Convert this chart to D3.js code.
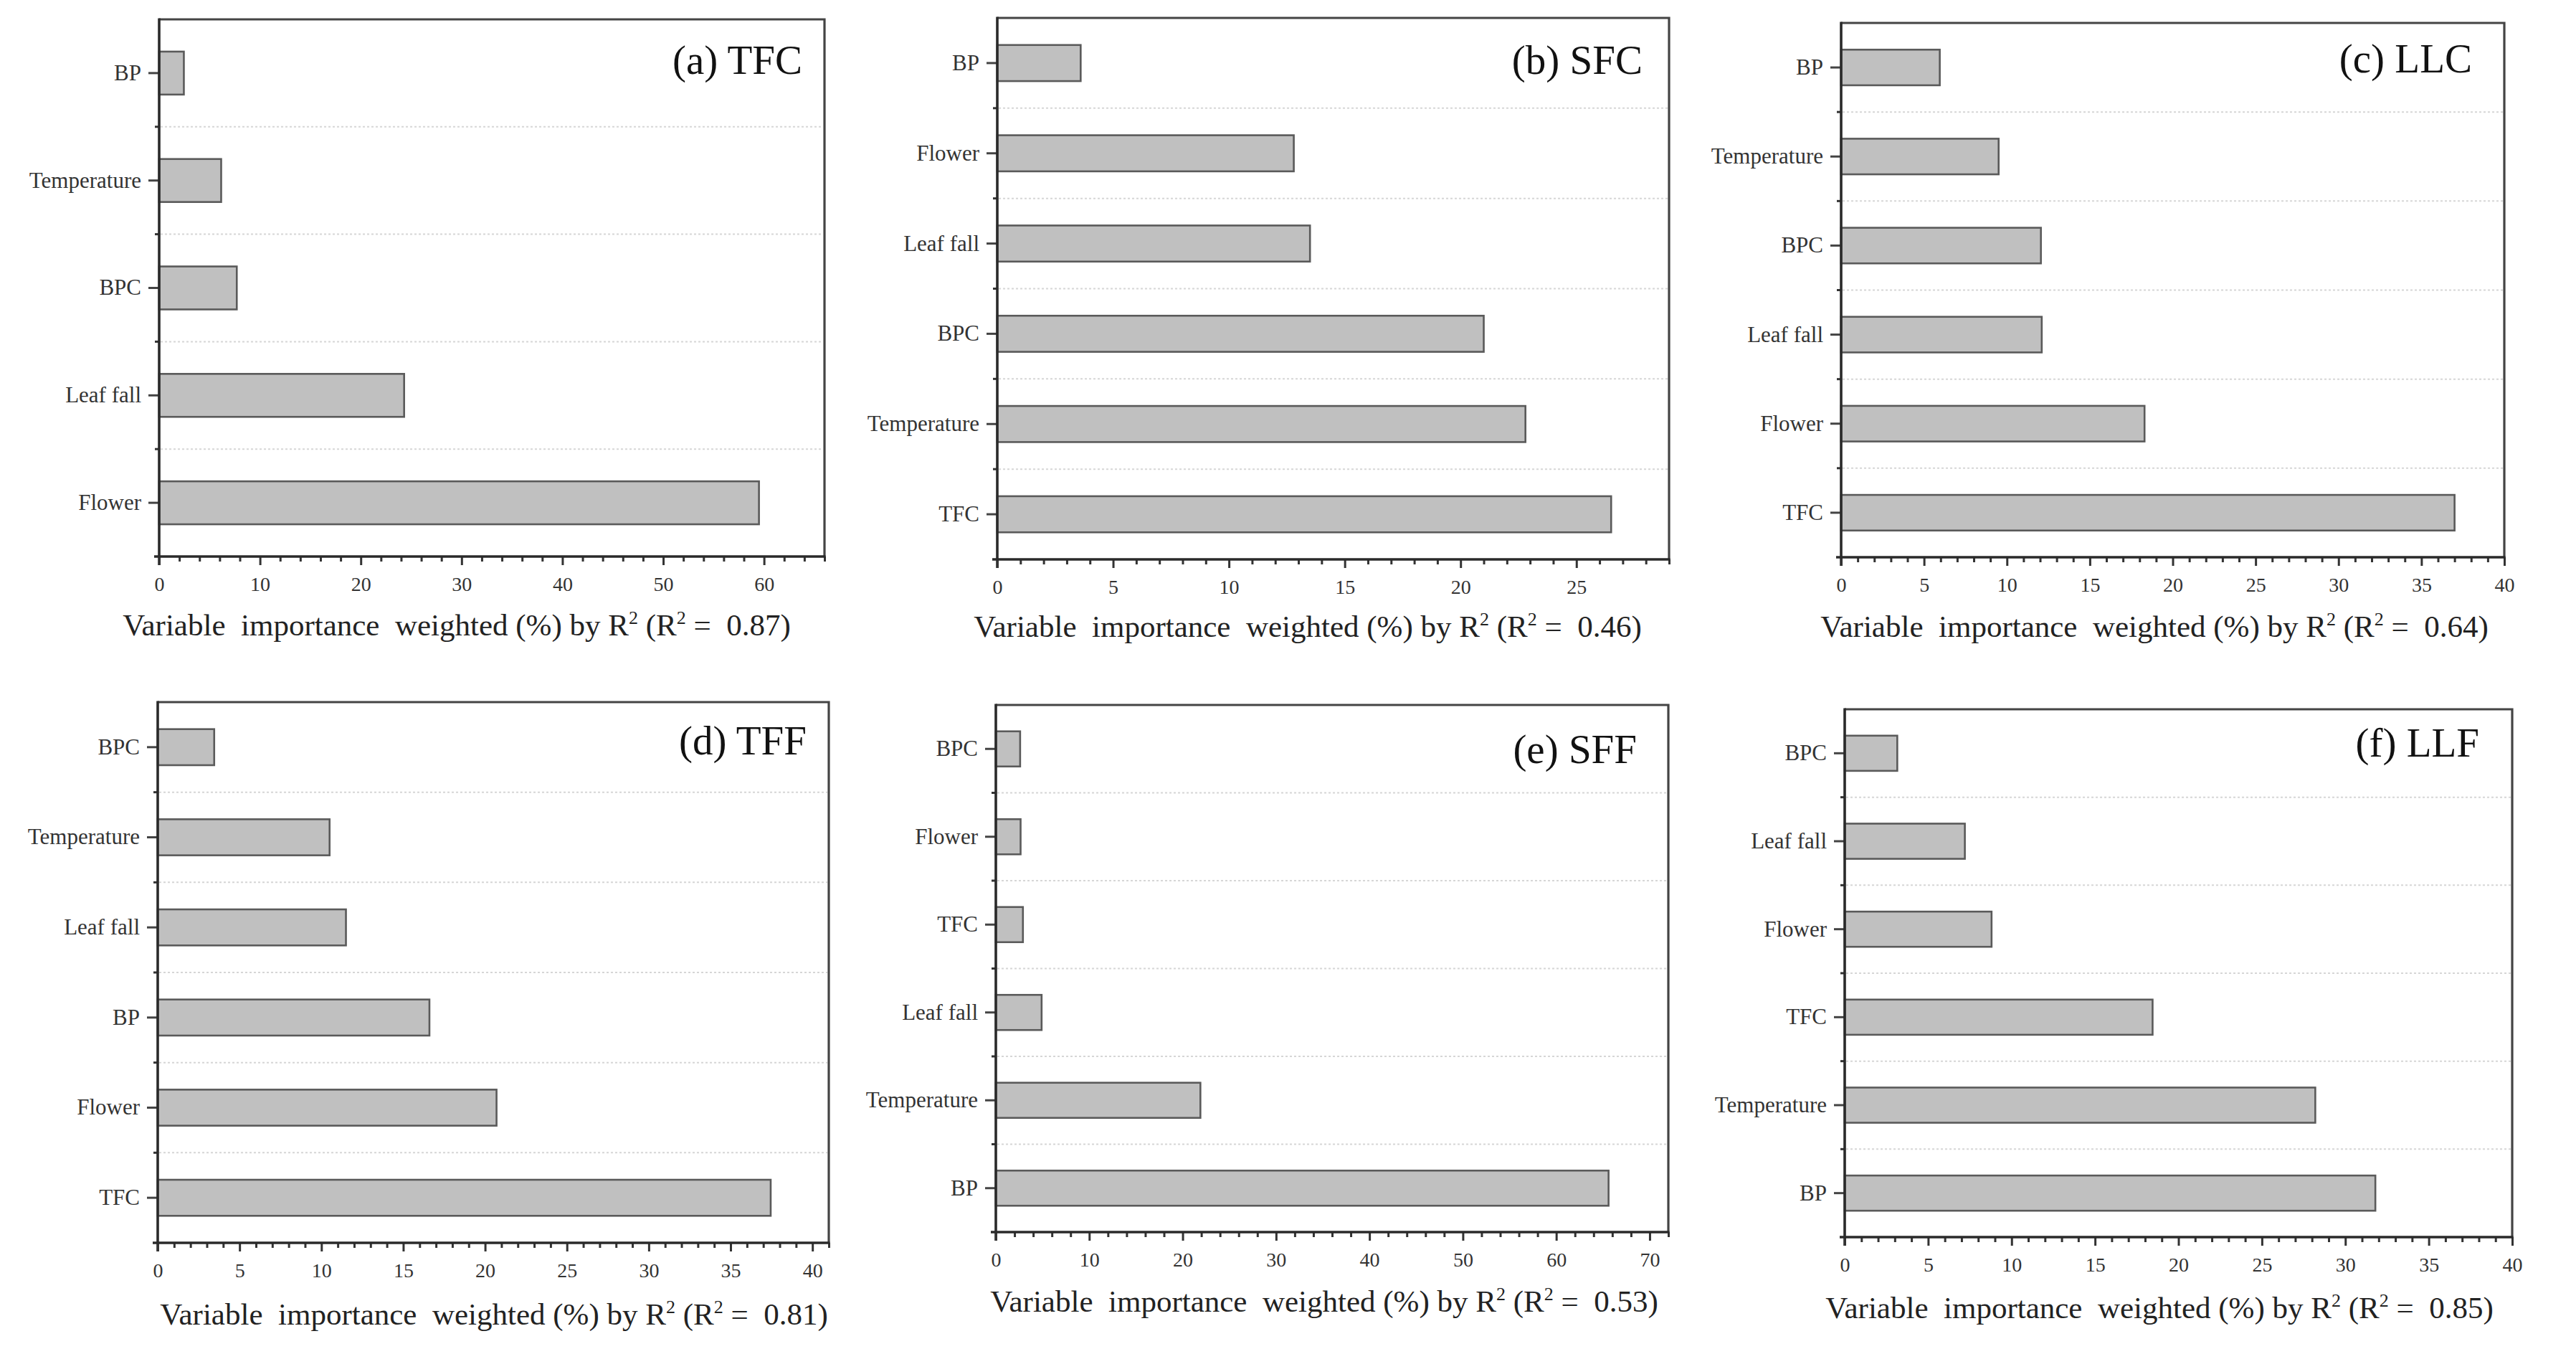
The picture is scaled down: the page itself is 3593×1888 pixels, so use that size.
<!DOCTYPE html>
<html>
<head>
<meta charset="utf-8">
<script src="https://cdn.jsdelivr.net/npm/d3@7"></script>
<style>
  body { margin: 0; background: #fff; }
  text { font-family: "Liberation Serif", "Times New Roman", serif; }
</style>
</head>
<body>
<svg id="chart"></svg>
<script>
// ---- data (top to bottom, as in the figure) ----
const panelNames = ['(a) TFC', '(b) SFC', '(c) LLC', '(d) TFF', '(e) SFF', '(f) LLF'];
const rSquared = ['0.87', '0.46', '0.64', '0.81', '0.53', '0.85'];

const catsA = ['BP', 'Temperature', 'BPC', 'Leaf fall', 'Flower'];
const valsA = [2.45, 6.15, 7.7, 24.3, 59.5];
const catsB = ['BP', 'Flower', 'Leaf fall', 'BPC', 'Temperature', 'TFC'];
const valsB = [3.6, 12.8, 13.5, 21.0, 22.8, 26.5];
const catsC = ['BP', 'Temperature', 'BPC', 'Leaf fall', 'Flower', 'TFC'];
const valsC = [5.95, 9.5, 12.05, 12.1, 18.3, 37.0];
const catsD = ['BPC', 'Temperature', 'Leaf fall', 'BP', 'Flower', 'TFC'];
const valsD = [3.45, 10.5, 11.5, 16.6, 20.7, 37.45];
const catsE = ['BPC', 'Flower', 'TFC', 'Leaf fall', 'Temperature', 'BP'];
const valsE = [2.6, 2.65, 2.9, 4.9, 21.9, 65.6];
const catsF = ['BPC', 'Leaf fall', 'Flower', 'TFC', 'Temperature', 'BP'];
const valsF = [3.15, 7.2, 8.8, 18.45, 28.2, 31.8];

const xMax = [66, 29, 40, 41, 72, 40];
const majorStep = [10, 5, 5, 5, 10, 5];
const minorStep = [2, 1, 1, 1, 2, 1];

const allCats = [catsA, catsB, catsC, catsD, catsE, catsF];
const allVals = [valsA, valsB, valsC, valsD, valsE, valsF];

// ---- layout (pixel frames of each panel) ----
const frames = [
  { x0: 222,  x1: 1150, y0: 27,  y1: 776,  tx: 637,  ty: 886,  lx: 31, ly: 103 },
  { x0: 1391, x1: 2328, y0: 25,  y1: 780,  tx: 1824, ty: 888,  lx: 37, ly: 103 },
  { x0: 2568, x1: 3493, y0: 32,  y1: 777,  tx: 3005, ty: 888,  lx: 45, ly: 101 },
  { x0: 220,  x1: 1156, y0: 979, y1: 1733, tx: 689,  ty: 1847, lx: 31, ly: 1052 },
  { x0: 1389, x1: 2327, y0: 983, y1: 1718, tx: 1847, ty: 1829, lx: 44, ly: 1064 },
  { x0: 2573, x1: 3504, y0: 989, y1: 1725, tx: 3012, ty: 1838, lx: 46, ly: 1055 }
];

const W = 3593, H = 1888;
const svg = d3.select('#chart').attr('width', W).attr('height', H);
svg.append('rect').attr('width', W).attr('height', H).attr('fill', '#fff');

frames.forEach((f, i) => {
  const cats = allCats[i];
  const vals = allVals[i];
  const data = cats.map((c, k) => ({ cat: c, value: vals[k] }));

  const x = d3.scaleLinear().domain([0, xMax[i]]).range([f.x0, f.x1]);
  const y = d3.scaleBand().domain(cats).range([f.y0, f.y1])
    .paddingInner(0.6).paddingOuter(0.3);
  const step = y.step();

  const g = svg.append('g').attr('class', 'panel-' + i);

  // dotted gridlines at band boundaries
  const bounds = d3.range(1, cats.length).map(k => f.y0 + k * step);
  g.selectAll('.grid')
    .data(bounds)
    .enter()
    .append('line')
    .attr('x1', f.x0 + 2).attr('x2', f.x1 - 2)
    .attr('y1', d => d).attr('y2', d => d)
    .attr('stroke', '#d6d6d6')
    .attr('stroke-width', 2)
    .attr('stroke-dasharray', '3,3');

  // bars
  g.selectAll('.bar')
    .data(data)
    .enter()
    .append('rect')
    .attr('x', x(0))
    .attr('y', d => y(d.cat))
    .attr('width', d => x(d.value) - x(0))
    .attr('height', y.bandwidth())
    .attr('fill', '#c0c0c0')
    .attr('stroke', '#5a5a5a')
    .attr('stroke-width', 2.6);

  // frame: top and right
  g.append('path')
    .attr('d', `M${f.x0},${f.y0}H${f.x1}V${f.y1}`)
    .attr('fill', 'none')
    .attr('stroke', '#444')
    .attr('stroke-width', 3.2);

  // minor y ticks at boundaries
  g.selectAll('.yminor')
    .data(bounds)
    .enter()
    .append('line')
    .attr('x1', f.x0 - 6).attr('x2', f.x0)
    .attr('y1', d => d).attr('y2', d => d)
    .attr('stroke', '#333')
    .attr('stroke-width', 3);

  // y axis
  const yAxis = g.append('g')
    .attr('transform', `translate(${f.x0},0)`)
    .call(d3.axisLeft(y).tickSize(15).tickPadding(10));
  yAxis.select('.domain').remove();
  yAxis.append('line')
    .attr('x1', 0).attr('x2', 0)
    .attr('y1', f.y0 - 1.5).attr('y2', f.y1 + 12)
    .attr('stroke', '#2a2a2a').attr('stroke-width', 3.6);
  yAxis.selectAll('.tick line').attr('stroke', '#444').attr('stroke-width', 3);
  yAxis.selectAll('.tick text')
    .attr('fill', '#333')
    .style('font-size', '31px');

  // x axis minor ticks
  const minorTicks = d3.range(0, xMax[i] + 0.001, minorStep[i])
    .filter(v => Math.abs(v / majorStep[i] - Math.round(v / majorStep[i])) > 1e-6);
  const xMinor = g.append('g')
    .attr('transform', `translate(0,${f.y1})`)
    .call(d3.axisBottom(x).tickValues(minorTicks).tickSize(7).tickFormat(''));
  xMinor.select('.domain').remove();
  xMinor.selectAll('.tick line').attr('stroke', '#333').attr('stroke-width', 3);

  // x axis major ticks
  const majorTicks = d3.range(0, xMax[i] + 0.001, majorStep[i]);
  const xAxis = g.append('g')
    .attr('transform', `translate(0,${f.y1})`)
    .call(d3.axisBottom(x).tickValues(majorTicks).tickSize(12).tickPadding(16)
      .tickFormat(d3.format('d')));
  xAxis.select('.domain').remove();
  xAxis.append('line')
    .attr('x1', f.x0 - 7).attr('x2', f.x1 + 1.5)
    .attr('y1', 0).attr('y2', 0)
    .attr('stroke', '#2a2a2a').attr('stroke-width', 3.6);
  xAxis.selectAll('.tick line').attr('stroke', '#333').attr('stroke-width', 3);
  xAxis.selectAll('.tick text')
    .attr('fill', '#333')
    .style('font-size', '28px');

  // panel label
  g.append('text')
    .attr('x', f.x1 - f.lx)
    .attr('y', f.ly)
    .attr('text-anchor', 'end')
    .attr('fill', '#111')
    .style('font-size', '57px')
    .text(panelNames[i]);

  // x axis title with superscripts
  const title = g.append('text')
    .attr('x', f.tx)
    .attr('y', f.ty)
    .attr('text-anchor', 'middle')
    .attr('fill', '#222')
    .style('font-size', '43px')
    .style('white-space', 'pre');
  title.append('tspan').text('Variable  importance  weighted (%) by R');
  title.append('tspan').attr('dy', -16).style('font-size', '26px').text('2');
  title.append('tspan').attr('dy', 16).text(' (R');
  title.append('tspan').attr('dy', -16).style('font-size', '26px').text('2');
  title.append('tspan').attr('dy', 16).text(' =  ' + rSquared[i] + ')');
});
</script>
</body>
</html>
